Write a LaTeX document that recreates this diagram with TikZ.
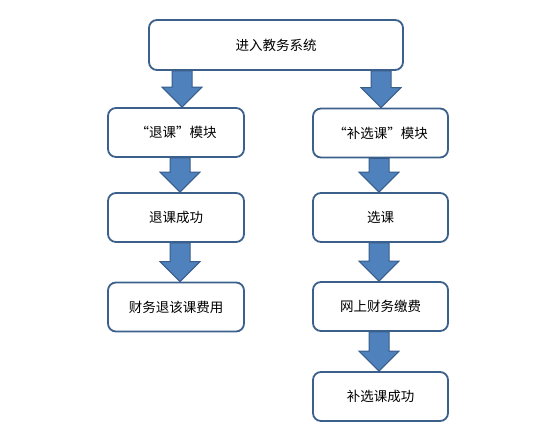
\documentclass[tikz,border=0pt]{standalone}
\usepackage{fontspec}
\newfontfamily\cjk{Noto Sans CJK SC}
\usetikzlibrary{calc}
\definecolor{boxline}{RGB}{60,96,140}
\definecolor{arrfill}{RGB}{79,129,189}
\definecolor{arrline}{RGB}{56,93,138}
\tikzset{
  flowbox/.style={draw=boxline, line width=1.8pt, fill=white, rounded corners=8pt,
    minimum width=#1, minimum height=49pt, inner sep=0pt, align=center,
    font=\cjk\fontsize{13.5}{16}\selectfont},
  flowbox/.default=136pt,
  blockarr/.style={fill=arrfill, draw=arrline, line width=1pt, line join=miter}
}
\newcommand\blockarrow[3]{%
  \path[blockarr] let \p1=(#2.south), \p2=(#3.north) in
    ({#1pt-10pt},{\y1}) -- ({#1pt+10pt},{\y1}) -- ({#1pt+10pt},{\y2+20pt})
    -- ({#1pt+20pt},{\y2+20pt}) -- ({#1pt},{\y2}) -- ({#1pt-20pt},{\y2+20pt})
    -- ({#1pt-10pt},{\y2+20pt}) -- cycle;%
}
\begin{document}
\begin{tikzpicture}[x=1pt,y=-1pt]
\useasboundingbox (0,0) rectangle (554,423);
\node[flowbox=254pt, minimum height=50pt] (top) at (276,45) {进入教务系统};
\node[flowbox] (l1) at (176,132.5) {“退课”模块};
\node[flowbox] (l2) at (176,217.5) {退课成功};
\node[flowbox] (l3) at (176,307) {财务退该课费用};
\node[flowbox=135pt] (r1) at (380.5,133) {“补选课”模块};
\node[flowbox=135pt] (r2) at (380.5,217.5) {选课};
\node[flowbox=135pt] (r3) at (380.5,306.5) {网上财务缴费};
\node[flowbox=135pt] (r4) at (380.5,396.5) {补选课成功};
\blockarrow{182}{top}{l1}
\blockarrow{381}{top}{r1}
\blockarrow{180}{l1}{l2}
\blockarrow{180}{l2}{l3}
\blockarrow{379}{r1}{r2}
\blockarrow{379}{r2}{r3}
\blockarrow{379}{r3}{r4}
\end{tikzpicture}
\end{document}
